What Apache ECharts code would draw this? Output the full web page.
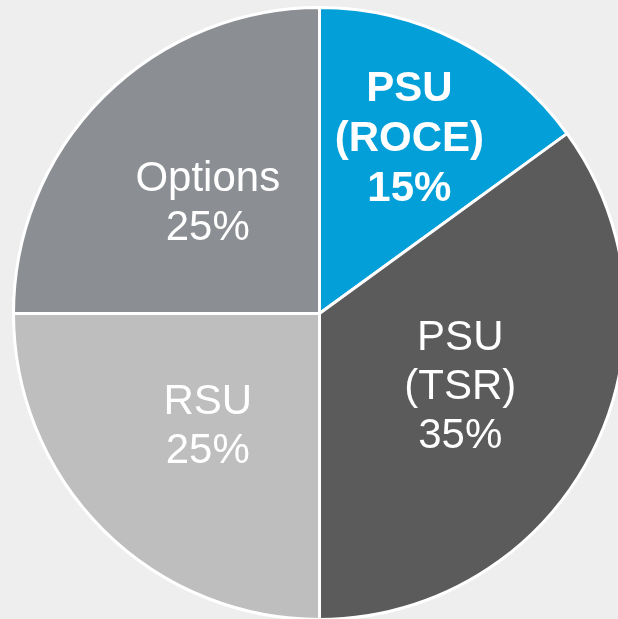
<!DOCTYPE html>
<html>
<head>
<meta charset="utf-8">
<script src="https://cdn.jsdelivr.net/npm/echarts@6/dist/echarts.min.js"></script>
<style>
  html, body { margin: 0; padding: 0; background: #eeeeee; }
  #main { width: 618px; height: 619px; }
</style>
</head>
<body>
<div id="main"></div>
<script>
// plan types and their share of the award (%)
var names = ['PSU\n(ROCE)', 'PSU\n(TSR)', 'RSU', 'Options'];
var shares = [15, 35, 25, 25];
var colors = ['#039fd9', '#5b5b5b', '#bebebe', '#8b8e93'];

var chart = echarts.init(document.getElementById('main'));

var data = names.map(function (n, i) {
    var item = { name: n, value: shares[i], itemStyle: { color: colors[i] } };
    if (i === 0) item.label = { fontWeight: 'bold', lineHeight: 50 };
    return item;
});

chart.setOption({
    backgroundColor: '#eeeeee',
    animation: false,
    series: [{
        type: 'pie',
        center: [319.5, 313.5],
        radius: [0, 306],
        startAngle: 90,
        clockwise: true,
        silent: true,
        itemStyle: { borderColor: '#ffffff', borderWidth: 3 },
        label: {
            show: true,
            position: 'inside',
            color: '#ffffff',
            fontFamily: 'Liberation Sans, Arial, sans-serif',
            fontSize: 42,
            lineHeight: 49,
            formatter: function (p) { return p.name + '\n' + p.value + '%'; }
        },
        labelLine: { show: false },
        // labels sit a little further out than the radius midpoint;
        // the small ROCE slice label is pushed further along its bisector
        labelLayout: function (p) {
            var a = [27, 117, 225, 315][p.dataIndex] * Math.PI / 180;
            var d = p.dataIndex === 0 ? 42 : 2;
            return { dx: d * Math.sin(a), dy: -d * Math.cos(a) + 2 };
        },
        data: data
    }]
});
</script>
</body>
</html>
